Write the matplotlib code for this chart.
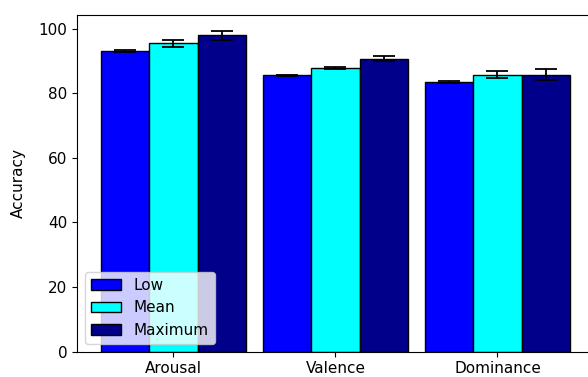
import numpy as np
import matplotlib
matplotlib.use("Agg")
import matplotlib.pyplot as plt

plt.rcParams['font.size'] = 11

dims = ["Arousal", "Valence", "Dominance"]
series = ["Low", "Mean", "Maximum"]
colors = ["blue", "cyan", "darkblue"]

low = [93.0, 85.5, 83.4]
mean = [95.4, 87.7, 85.7]
maximum = [97.9, 90.7, 85.7]

low_err = [0.3, 0.1, 0.3]
mean_err = [1.1, 0.3, 1.1]
max_err = [1.3, 0.9, 1.65]

fig = plt.figure(figsize=(5.88, 3.77), dpi=100)
ax = fig.add_axes([0.131, 0.067, 0.879, 0.893])

x = np.arange(len(dims))
w = 0.3
for i, (vals, errs) in enumerate([(low, low_err), (mean, mean_err), (maximum, max_err)]):
    ax.bar(x + (i - 1) * w, vals, w, yerr=errs, capsize=8, color=colors[i],
           edgecolor="black", label=series[i],
           error_kw={"elinewidth": 1.3, "capthick": 1.3})

ax.set_xticks(x)
ax.set_xticklabels(dims)
ax.set_ylabel("Accuracy", labelpad=9)
ax.legend(loc="lower left")

fig.savefig("out.png", dpi=100)
